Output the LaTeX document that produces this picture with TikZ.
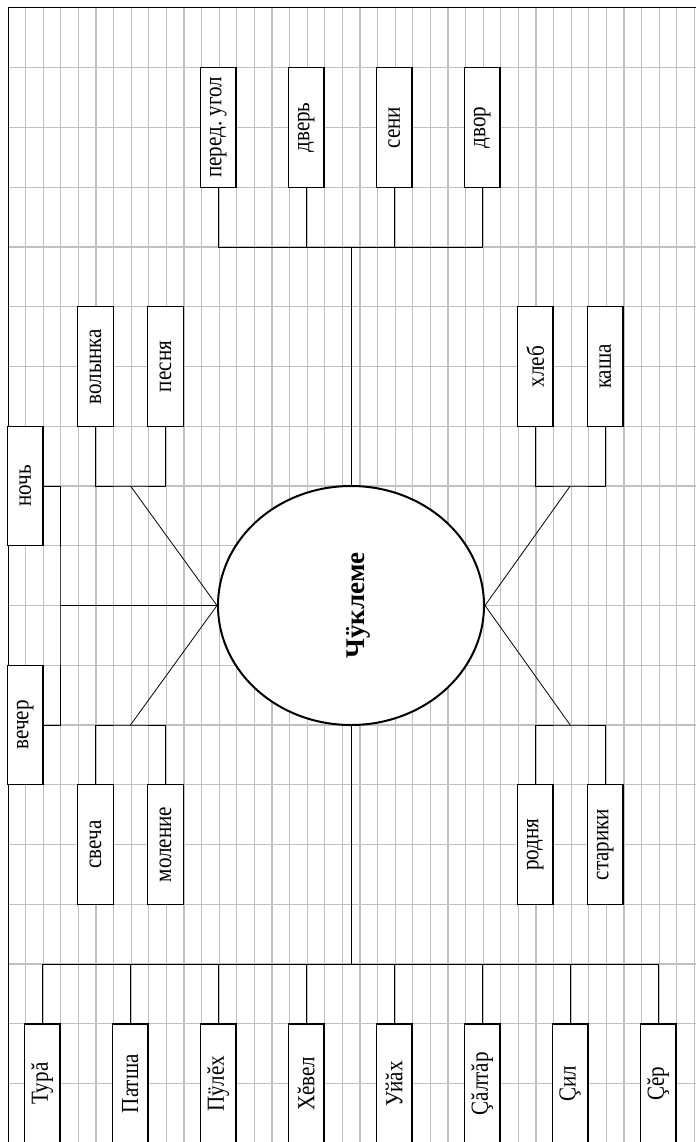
\documentclass[tikz,border=0pt]{standalone}
\usepackage{fontspec}
\setmainfont{Liberation Serif}
\newfontfamily\boxfont[FakeStretch=0.86]{Liberation Serif}
\usetikzlibrary{shapes.geometric}
\definecolor{gridgray}{RGB}{192,192,192}
\frenchspacing
\begin{document}
\begin{tikzpicture}[x=1pt,y=-1pt,
  box/.style={draw,fill=white,rotate=90,line width=1.1pt,minimum width=119.5pt,minimum height=35.5pt,inner sep=0pt,font=\boxfont\fontsize{24.5}{28}\selectfont},
  link/.style={line width=1pt},
  spoke/.style={line width=0.8pt}]
\useasboundingbox (0,0) rectangle (696,1142);
\clip (0,0) rectangle (696,1142);
\foreach \k in {1,...,39} \draw[gridgray,line width=1.3pt] (8+17.6*\k,8) -- (8+17.6*\k,1142);
\foreach \n in {1,...,18} \draw[gridgray,line width=1.3pt] (8,8+59.75*\n) -- (696,8+59.75*\n);
\draw[line width=1pt] (696,8) -- (8,8) -- (8,1142);
\node[ellipse,draw,fill=white,line width=2pt,minimum width=266pt,minimum height=239pt,inner sep=0pt] (ch) at (351,605.5) {};
\node[rotate=90,font=\bfseries\fontsize{27}{32}\selectfont] (chname) at (358,605.5) {Чÿклеме};
\node[box] (ugol) at (218.2,127.5) {перед. угол};
\node[box] (dver) at (306.2,127.5) {дверь};
\node[box] (seni) at (394.2,127.5) {сени};
\node[box] (dvor) at (482.2,127.5) {двор};
\node[box] (volynka) at (95.5,366.5) {волынка};
\node[box] (pesnya) at (165.5,366.5) {песня};
\node[box] (hleb) at (535.2,366.5) {хлеб};
\node[box] (kasha) at (605.2,366.5) {каша};
\node[box] (noch) at (25.2,486) {ночь};
\node[box] (vecher) at (25.2,725) {вечер};
\node[box] (svecha) at (95.5,844.5) {свеча};
\node[box] (molenie) at (165.5,844.5) {моление};
\node[box] (rodnya) at (535.2,844.5) {родня};
\node[box] (stariki) at (605.2,844.5) {старики};
\node[box] (tura) at (42.2,1083.75) {Турă};
\node[box] (patsha) at (130.2,1083.75) {Патша};
\node[box] (pulekh) at (218.2,1083.75) {Пÿлĕх};
\node[box] (khevel) at (306.2,1083.75) {Хĕвел};
\node[box] (uyakh) at (394.2,1083.75) {Уйăх};
\node[box] (saltar) at (482.2,1083.75) {Çăлтăр};
\node[box] (sil) at (570.2,1083.75) {Çил};
\node[box] (ser) at (658.2,1083.75) {Çĕр};
\coordinate (tbar) at (351,247.25);
\coordinate (vpbar) at (130.5,486);
\coordinate (smbar) at (130.5,725);
\coordinate (hkbar) at (570.2,486);
\coordinate (rsbar) at (570.2,725);
\coordinate (nvbar) at (60,605.5);
\coordinate (bbar) at (351,964);
\draw[link] (ugol.west) |- (tbar) -| (dvor.west);
\draw[link] (dver.west) -- (dver.west |- tbar);
\draw[link] (seni.west) -- (seni.west |- tbar);
\draw[link] (ch.north) -- (tbar);
\draw[link] (volynka.west) |- (vpbar) -| (pesnya.west);
\draw[spoke] (vpbar) -- (ch.west);
\draw[link] (svecha.east) |- (smbar) -| (molenie.east);
\draw[spoke] (smbar) -- (ch.west);
\draw[link] (hleb.west) |- (hkbar) -| (kasha.west);
\draw[spoke] (hkbar) -- (ch.east);
\draw[link] (rodnya.east) |- (rsbar) -| (stariki.east);
\draw[spoke] (rsbar) -- (ch.east);
\draw[link] (noch.south) -| (nvbar) |- (vecher.south);
\draw[link] (nvbar) -- (ch.west);
\draw[link] (ch.south) -- (bbar);
\draw[link] (tura.east) |- (bbar) -| (ser.east);
\foreach \b in {patsha,pulekh,khevel,uyakh,saltar,sil} \draw[link] (\b.east) -- (\b.east |- bbar);
\end{tikzpicture}
\end{document}
